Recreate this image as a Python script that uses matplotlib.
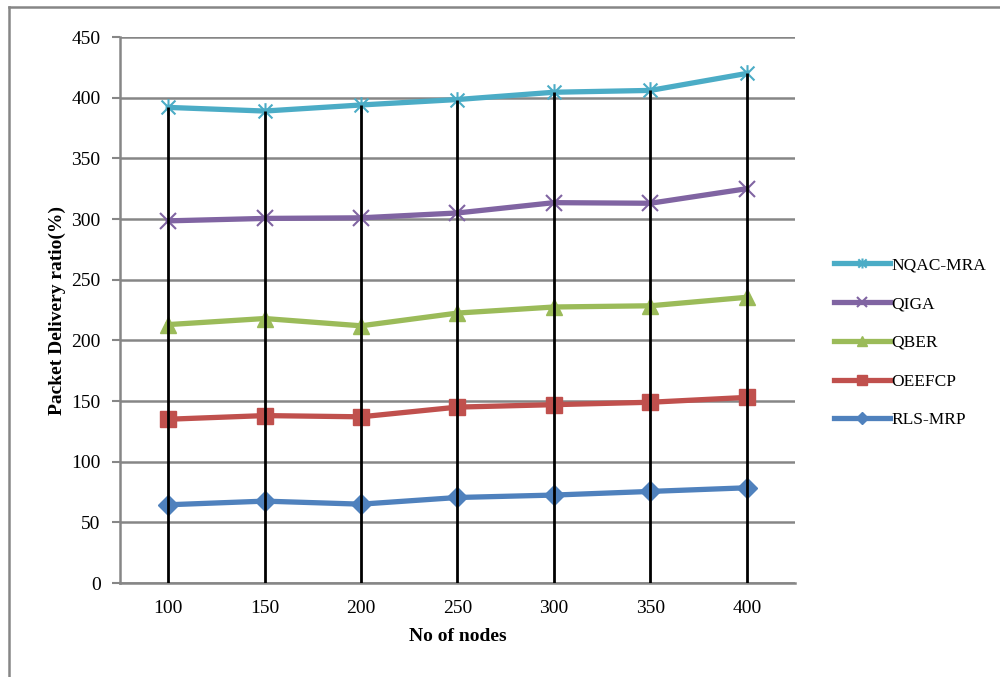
import matplotlib.pyplot as plt
from matplotlib.lines import Line2D
from matplotlib.path import Path

# 데이터
nodes = ["100", "150", "200", "250", "300", "350", "400"]
nqac_mra = [392, 389, 394, 398.5, 404.5, 406, 420]
qiga = [298.5, 300.5, 301, 305, 313.5, 313, 325]
qber = [213, 218, 212, 222.5, 227.5, 228.5, 235.5]
oeefcp = [135, 138, 137, 145, 147, 149, 153]
rls_mrp = [64.5, 67.5, 65, 70.5, 72.5, 75.5, 78.5]

plt.rcParams['font.family'] = ['Liberation Serif', 'DejaVu Serif']

# 별표 마커 (x + 세로선)
star = Path([(-1, -1), (1, 1), (-1, 1), (1, -1), (0, -1.2), (0, 1.2)],
            [Path.MOVETO, Path.LINETO, Path.MOVETO, Path.LINETO, Path.MOVETO, Path.LINETO])

fig = plt.figure(figsize=(10, 6.77), dpi=100)
ax = fig.add_axes([0.12, 0.1388, 0.675, 0.8065])

x = list(range(len(nodes)))

# 드롭 라인
tops = [max(v) for v in zip(nqac_mra, qiga, qber, oeefcp, rls_mrp)]
ax.vlines(x, 0, tops, color="black", linewidth=2, zorder=6)

lw = 3.8
ax.plot(x, rls_mrp, color="#4F81BD", linewidth=lw, marker="D", markersize=10, label="RLS-MRP", zorder=3)
ax.plot(x, oeefcp, color="#C0504D", linewidth=lw, marker="s", markersize=11, label="OEEFCP", zorder=3)
ax.plot(x, qber, color="#9BBB59", linewidth=lw, marker="^", markersize=11, label="QBER", zorder=3)
ax.plot(x, qiga, color="#8064A2", linewidth=lw, marker="x", markersize=12, markeredgewidth=1.5, label="QIGA", zorder=3)
ax.plot(x, nqac_mra, color="#4BACC6", linewidth=lw, marker=star, markersize=12, markeredgewidth=1.5,
        fillstyle="none", label="NQAC-MRA", zorder=3)

ax.set_xlim(-0.5, 6.5)
ax.set_ylim(0, 450)
ax.set_yticks(range(0, 451, 50))
ax.set_xticks(x)
ax.set_xticklabels(nodes)
ax.tick_params(axis="x", length=0, pad=12, labelsize=14)
ax.tick_params(axis="y", length=6, width=1.5, color="#868686", pad=8, labelsize=14)
ax.grid(axis="y", color="#868686", linewidth=1.8)
ax.set_axisbelow(True)
for s in ["top", "right"]:
    ax.spines[s].set_visible(False)
ax.spines["left"].set_color("#868686")
ax.spines["left"].set_linewidth(1.8)
ax.spines["bottom"].set_color("#868686")
ax.spines["bottom"].set_linewidth(1.8)

ax.set_xlabel("No of nodes", fontweight="bold", fontsize=14, labelpad=8)
ax.set_ylabel("Packet Delivery ratio(%)", fontweight="bold", fontsize=14, labelpad=4)

h, l = ax.get_legend_handles_labels()
ax.legend(h[::-1], l[::-1], loc="center left", bbox_to_anchor=(1.035, 0.44), frameon=False,
          fontsize=12.5, handlelength=3.2, labelspacing=1.3, markerscale=0.6, handletextpad=0.1)

# 차트 테두리
fig.add_artist(Line2D([0.009, 0.009], [0, 0.99], color="#868686", linewidth=1.8))
fig.add_artist(Line2D([0.009, 1], [0.99, 0.99], color="#868686", linewidth=1.8))

plt.savefig("out.png", dpi=100)
